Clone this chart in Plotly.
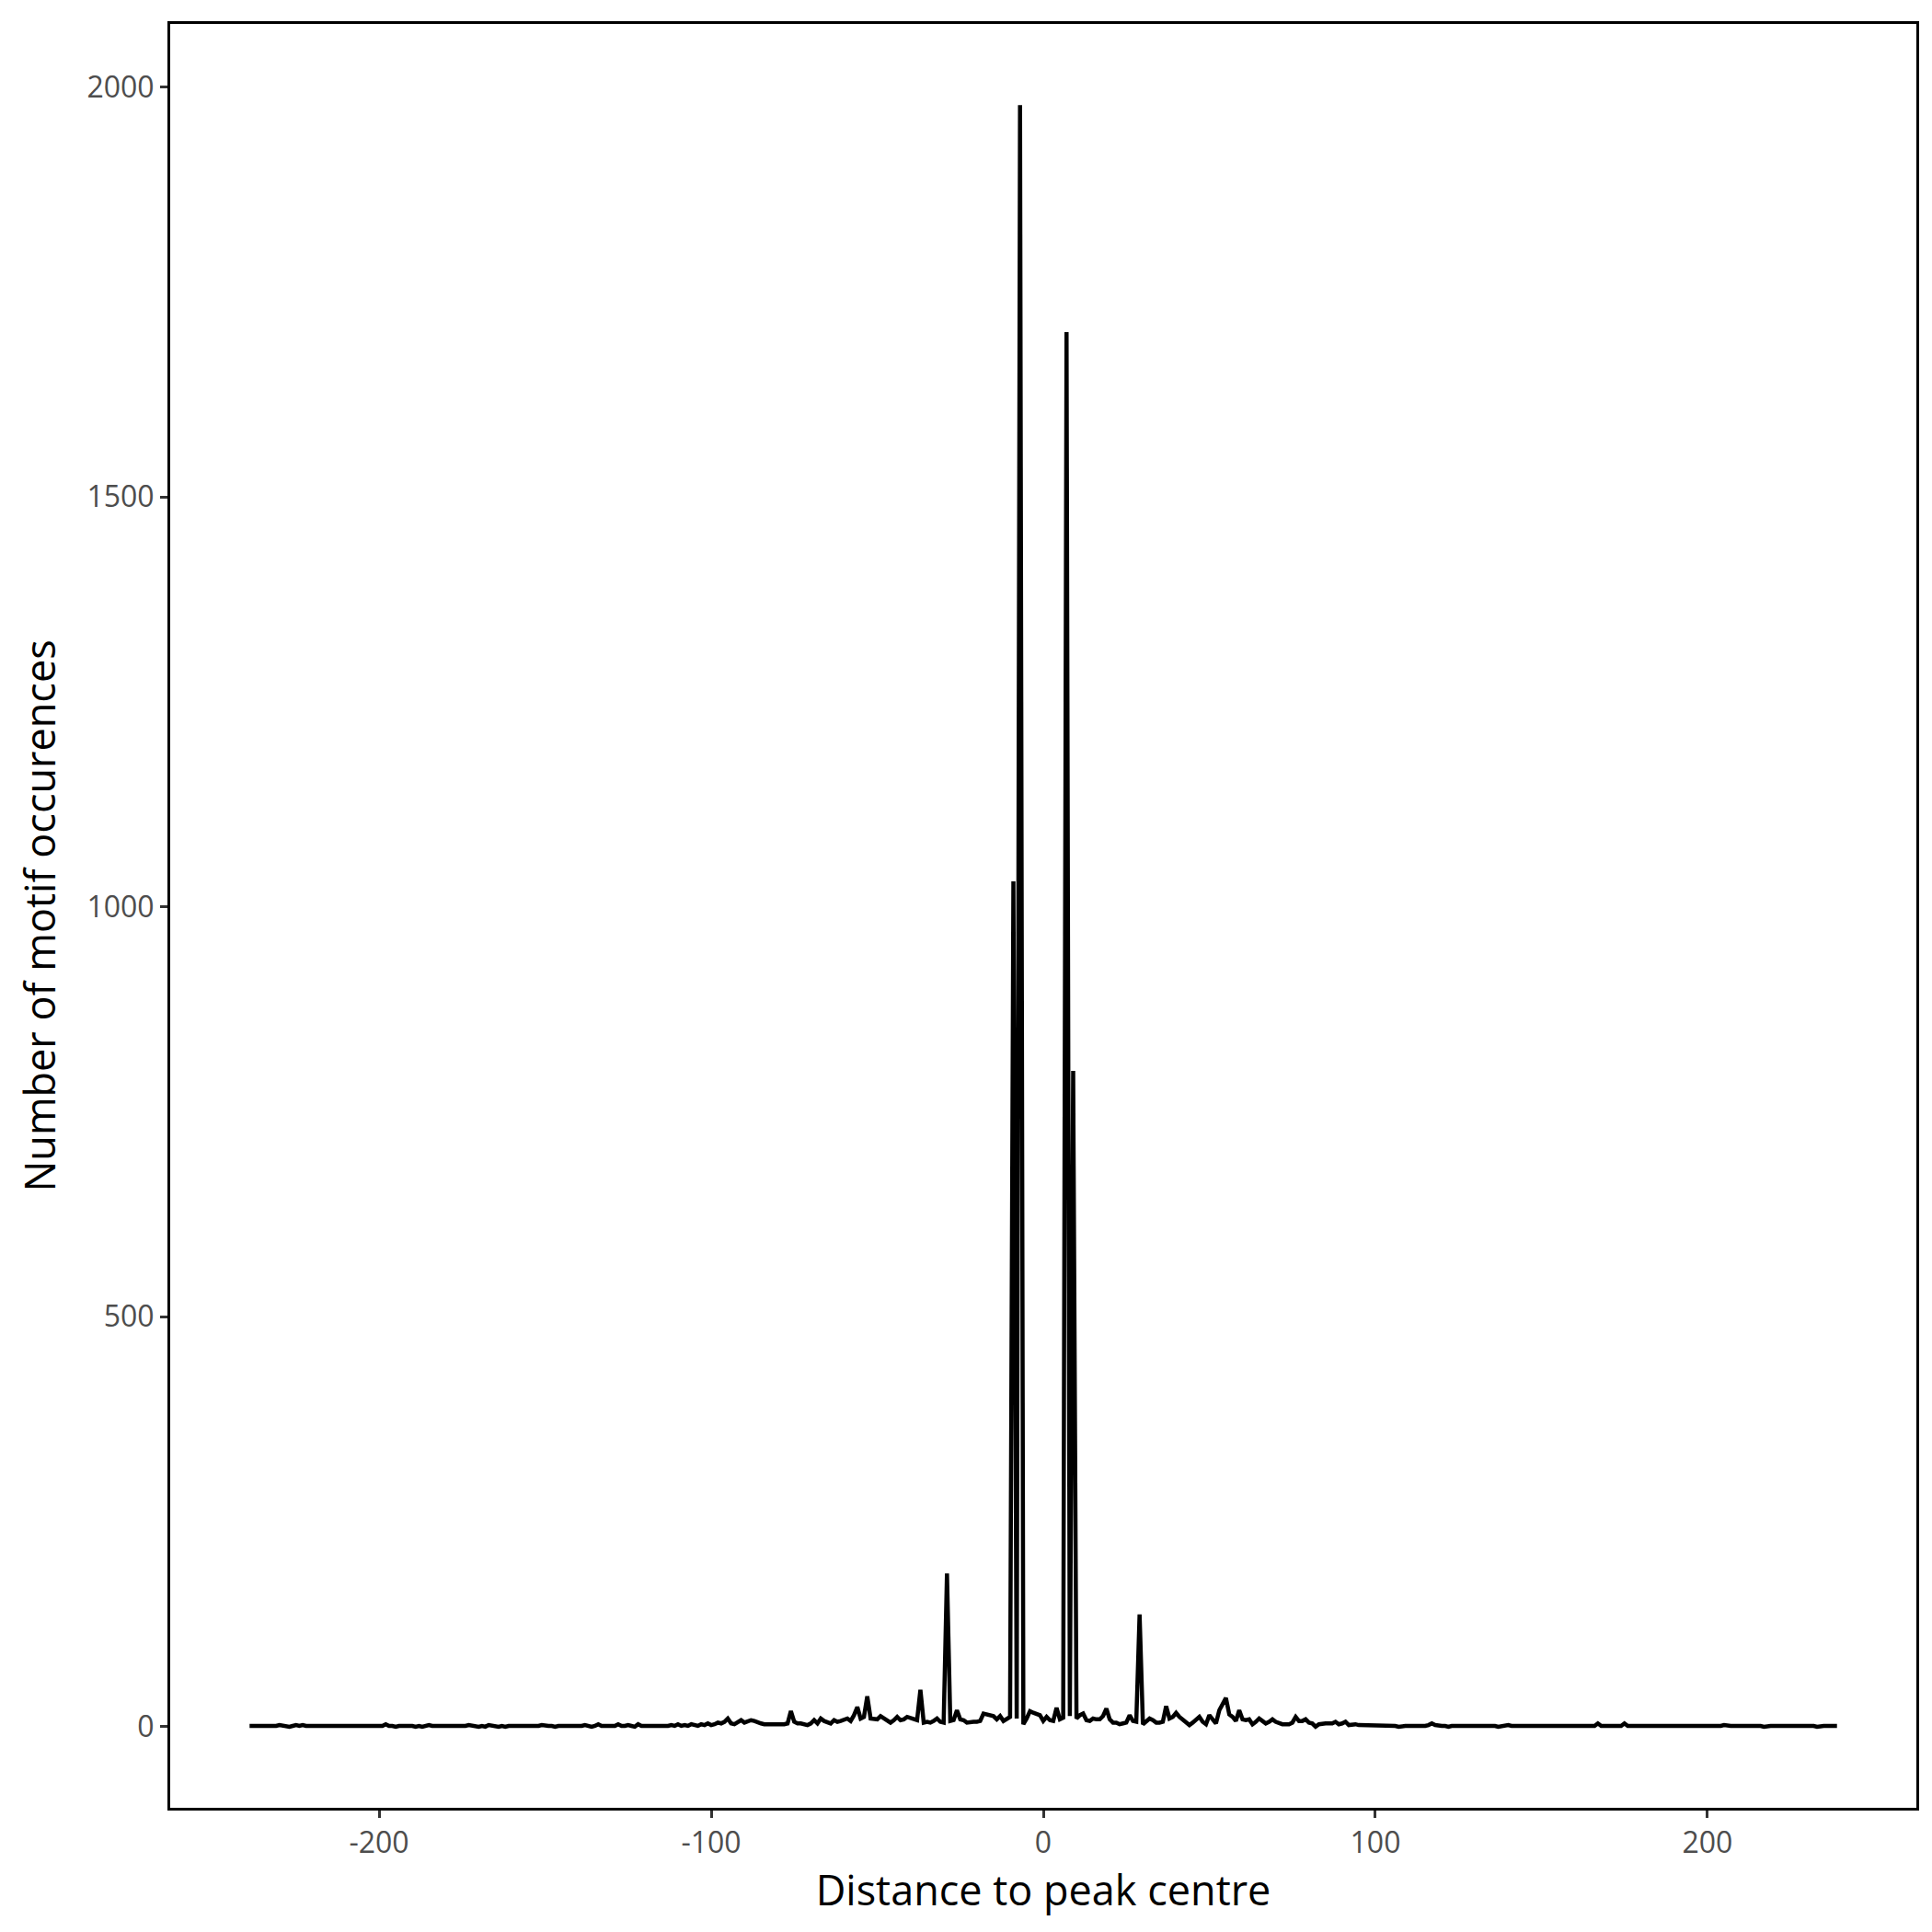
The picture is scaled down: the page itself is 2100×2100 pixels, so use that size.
import plotly.graph_objects as go

# distances to peak centre (bp), one point per position
distance = list(range(-239, 240))

# motif counts
# -239 .. -100
counts_left = [
    1, 1, 1, 0, 1, 1, 1, 0, 1, 2,
    1, 1, 0, 1, 2, 1, 2, 1, 1, 1,
    1, 0, 1, 1, 1, 1, 0, 1, 0, 1,
    1, 1, 0, 1, 1, 0, 1, 1, 1, 1,
    1, 3, 1, 1, 0, 1, 1, 2, 1, 1,
    0, 1, 0, 1, 2, 1, 1, 0, 1, 1,
    0, 1, 1, 1, 0, 1, 2, 1, 1, 0,
    1, 0, 2, 1, 1, 0, 1, 0, 1, 1,
    0, 1, 1, 0, 1, 1, 0, 1, 2, 1,
    1, 1, 0, 1, 1, 1, 0, 1, 0, 1,
    1, 2, 1, 0, 1, 3, 1, 1, 1, 2,
    1, 3, 1, 1, 2, 1, 0, 3, 1, 1,
    1, 1, 1, 0, 1, 1, 1, 2, 1, 3,
    1, 2, 1, 3, 2, 1, 3, 2, 4, 2,
]
# -99 .. 100
counts_core = [
    3, 5, 4, 6, 10, 4, 3, 5, 8, 5,
    6, 8, 7, 5, 4, 3, 3, 3, 3, 2,
    3, 3, 4, 19, 6, 4, 4, 3, 2, 4,
    8, 4, 10, 7, 5, 4, 8, 6, 7, 9,
    10, 7, 14, 24, 10, 12, 37, 10, 9, 9,
    13, 10, 8, 5, 8, 12, 8, 9, 12, 11,
    9, 8, 45, 5, 6, 5, 7, 10, 6, 5,
    187, 7, 8, 20, 9, 8, 5, 6, 6, 6,
    7, 16, 15, 14, 13, 9, 13, 7, 9, 12,
    1031, 10, 1978, 3, 10, 19, 17, 16, 14, 7,
    12, 8, 7, 23, 9, 11, 1701, 13, 800, 10,
    14, 16, 8, 7, 10, 9, 9, 13, 22, 9,
    5, 5, 3, 4, 5, 14, 7, 6, 137, 3,
    6, 10, 8, 5, 5, 6, 25, 10, 12, 17,
    12, 9, 5, 2, 5, 9, 12, 6, 3, 14,
    8, 4, 20, 28, 35, 15, 12, 7, 20, 9,
    8, 9, 3, 6, 10, 7, 4, 6, 9, 6,
    4, 3, 3, 3, 5, 12, 7, 7, 9, 5,
    4, 0, 3, 4, 4, 4, 4, 6, 3, 4,
    6, 2, 3, 3, 2, 2, 1, 2, 1, 2,
]
# 101 .. 239
counts_right = [
    1, 1, 2, 1, 1, 1, 0, 1, 1, 1,
    1, 1, 0, 1, 1, 2, 4, 2, 1, 1,
    1, 0, 1, 1, 1, 1, 1, 2, 1, 1,
    1, 1, 2, 1, 1, 1, 0, 1, 1, 2,
    1, 1, 1, 1, 1, 0, 1, 1, 1, 1,
    1, 0, 1, 1, 1, 1, 0, 1, 1, 1,
    1, 1, 0, 1, 1, 1, 4, 1, 1, 1,
    1, 1, 0, 1, 4, 1, 1, 1, 1, 1,
    1, 1, 1, 1, 0, 1, 1, 1, 1, 1,
    1, 1, 0, 1, 1, 1, 1, 1, 1, 1,
    1, 1, 0, 1, 2, 1, 1, 1, 1, 1,
    2, 1, 1, 1, 1, 1, 0, 1, 1, 1,
    1, 1, 1, 1, 2, 1, 1, 1, 1, 1,
    1, 1, 0, 1, 1, 1, 1, 1, 1,
]
counts = counts_left + counts_core + counts_right

x_ticks = [-200, -100, 0, 100, 200]
x_labels = ["-200", "-100", "0", "100", "200"]
y_ticks = [0, 500, 1000, 1500, 2000]

fig = go.Figure()
fig.add_trace(go.Scatter(
    x=distance, y=counts, mode="lines",
    line=dict(color="black", width=4.5),
    showlegend=False,
))

axis_common = dict(
    showgrid=False, zeroline=False,
    showline=True, linecolor="black", linewidth=3, mirror=True,
    ticks="outside", ticklen=8, tickwidth=2.5, tickcolor="#333333",
    tickfont=dict(family="Open Sans", size=32, color="#4D4D4D"),
    title_font=dict(family="Open Sans", size=45, color="black"),
)

fig.update_layout(
    width=2100, height=2100,
    margin=dict(l=177, r=25, t=18, b=143),
    plot_bgcolor="white", paper_bgcolor="white",
    xaxis=dict(range=[-262.9, 262.9], tickvals=x_ticks, ticktext=x_labels,
               title=dict(text="Distance to peak centre", standoff=12),
               **axis_common),
    yaxis=dict(range=[-98.9, 2076.9], tickvals=y_ticks,
               title=dict(text="Number of motif occurences", standoff=20),
               **axis_common),
)

fig.write_html("out.html")
